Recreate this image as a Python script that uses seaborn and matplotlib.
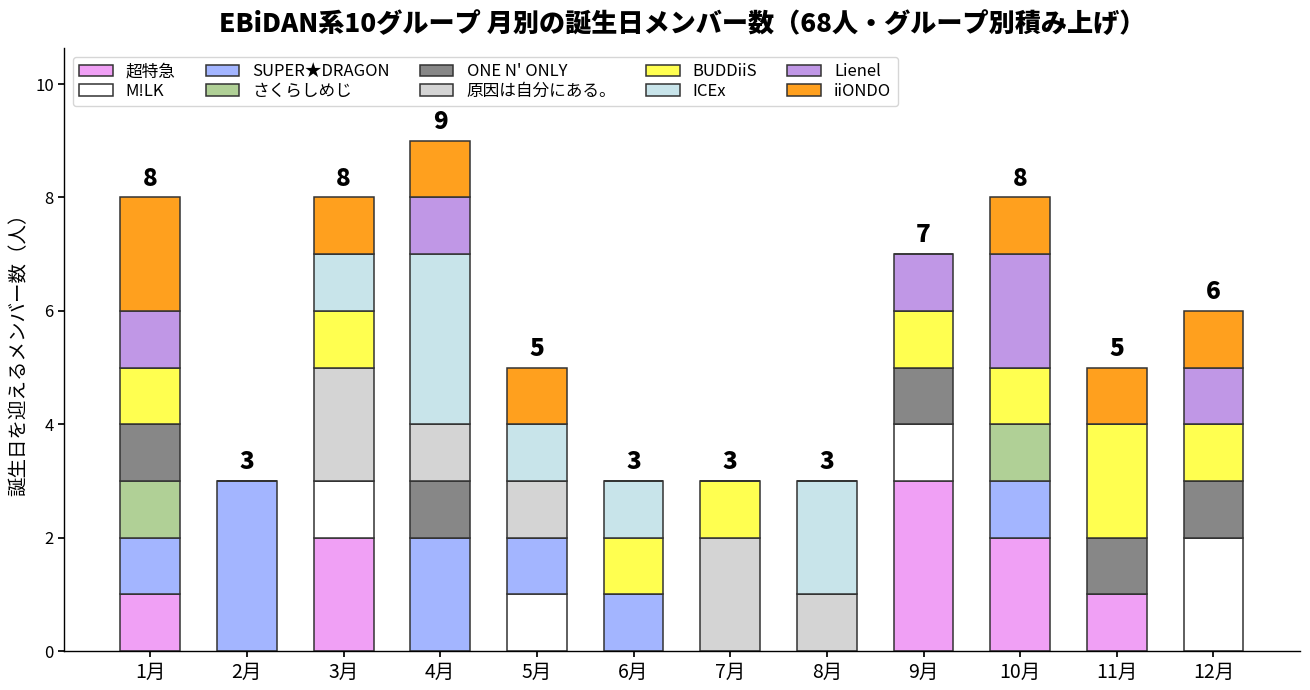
import numpy as np
import pandas as pd
import matplotlib
matplotlib.use("Agg")
import matplotlib.pyplot as plt
import seaborn as sns

months = ["1月", "2月", "3月", "4月", "5月", "6月", "7月", "8月", "9月", "10月", "11月", "12月"]
groups = ["超特急", "M!LK", "SUPER★DRAGON", "さくらしめじ", "ONE N' ONLY",
          "原因は自分にある。", "BUDDiiS", "ICEx", "Lienel", "iiONDO"]
colors = ["#f0a0f5", "#ffffff", "#a3b5ff", "#b0d096", "#878787",
          "#d4d4d4", "#ffff50", "#c8e4ea", "#c097e6", "#ffa01e"]

chotokkyu   = [1, 0, 2, 0, 0, 0, 0, 0, 3, 2, 1, 0]
milk        = [0, 0, 1, 0, 1, 0, 0, 0, 1, 0, 0, 2]
superdragon = [1, 3, 0, 2, 1, 1, 0, 0, 0, 1, 0, 0]
sakura      = [1, 0, 0, 0, 0, 0, 0, 0, 0, 1, 0, 0]
onenonly    = [1, 0, 0, 1, 0, 0, 0, 0, 1, 0, 1, 1]
genjibun    = [0, 0, 2, 1, 1, 0, 2, 1, 0, 0, 0, 0]
buddiis     = [1, 0, 1, 0, 0, 1, 1, 0, 1, 1, 2, 1]
icex        = [0, 0, 1, 3, 1, 1, 0, 2, 0, 0, 0, 0]
lienel      = [1, 0, 0, 1, 0, 0, 0, 0, 1, 2, 0, 1]
iiondo      = [2, 0, 1, 1, 1, 0, 0, 0, 0, 1, 1, 1]

series = [chotokkyu, milk, superdragon, sakura, onenonly,
          genjibun, buddiis, icex, lienel, iiondo]

sns.set_theme(style="white")
plt.rcParams['font.family'] = ['Noto Sans CJK JP', 'DejaVu Sans']
plt.rcParams['text.color'] = 'black'
plt.rcParams['axes.labelcolor'] = 'black'
plt.rcParams['xtick.color'] = 'black'
plt.rcParams['ytick.color'] = 'black'

fig = plt.figure(figsize=(13.1, 6.9), dpi=100)
ax = fig.add_axes([0.049, 0.0565, 0.943, 0.8735])

bottom = np.zeros(len(months))
for name, vals, col in zip(groups, series, colors):
    df = pd.DataFrame({"month": months, "count": vals})
    sns.barplot(data=df, x="month", y="count", order=months, color=col,
                saturation=1, width=0.62, bottom=bottom, edgecolor="#333333",
                linewidth=1.1, label=name, ax=ax, errorbar=None)
    bottom = bottom + np.array(vals)

totals = bottom
for i, t in enumerate(totals):
    ax.text(i, t + 0.12, f"{int(t)}", ha="center", va="bottom",
            fontsize=17.5, fontweight="heavy", color="black")

ax.set_ylim(0, 10.63)
ax.set_xlim(-0.89, 11.89)
ax.set_yticks([0, 2, 4, 6, 8, 10])
ax.set_xlabel("")
ax.set_ylabel("誕生日を迎えるメンバー数（人）", fontsize=14)
ax.tick_params(axis="x", labelsize=14, bottom=True, length=4, color="black")
ax.tick_params(axis="y", labelsize=12, left=True, length=4, color="black")
for s in ["top", "right"]:
    ax.spines[s].set_visible(False)
for s in ["left", "bottom"]:
    ax.spines[s].set_color("black")
    ax.spines[s].set_linewidth(1.0)

ax.legend(loc="upper left", ncol=5, fontsize=12, frameon=True,
          bbox_to_anchor=(0.0, 1.0), handlelength=2.0, columnspacing=1.8,
          borderaxespad=0.5, labelspacing=0.15)

ax.set_title("EBiDAN系10グループ 月別の誕生日メンバー数（68人・グループ別積み上げ）",
             fontsize=18.8, fontweight="heavy", pad=12)

fig.savefig("out.png", dpi=100)
